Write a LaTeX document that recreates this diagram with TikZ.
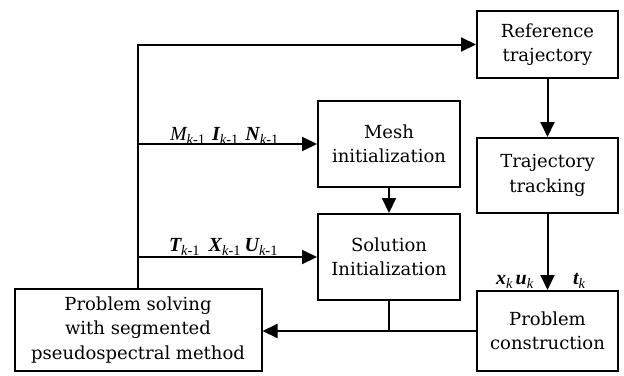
\documentclass[tikz,border=0pt]{standalone}
\usepackage{fontspec}
\setmainfont{DejaVu Serif}
\newfontfamily\lblfont{Liberation Serif}
\usetikzlibrary{arrows.meta}
% bold italic variable with a lowered subscript
\newcommand{\var}[3][\bfseries]{{\lblfont\fontsize{20}{20}\selectfont#1\itshape #2}\raisebox{-4pt}{\lblfont\fontsize{14.5}{14.5}\selectfont\textit{#3}}}
\newcommand{\sub}[1]{#1\upshape -1}

\begin{document}
\begin{tikzpicture}[x=1pt,y=-1pt, line width=2pt, >={Triangle[length=15pt,width=14pt]},
  block/.style={draw, line width=2pt, align=center, inner sep=2pt, font=\fontsize{18}{24.5}\selectfont}]
\useasboundingbox (0,0) rectangle (624,375);

\node[block, minimum width=141pt, minimum height=67pt] (ref) at (547.5,44.5) {Reference\\trajectory};
\node[block, minimum width=141pt, minimum height=75pt] (track) at (547.5,175.5) {Trajectory\\tracking};
\node[block, minimum width=141pt, minimum height=80pt] (cons) at (547.5,331) {Problem\\construction};

\node[block, minimum width=142pt, minimum height=86pt] (mesh) at (389,144) {Mesh\\initialization};
\node[block, minimum width=142pt, minimum height=86pt] (sol) at (389,257) {Solution\\Initialization};

\node[block, minimum width=247pt, minimum height=82pt] (solve) at (138,330) {Problem solving\\with segmented\\pseudospectral method};

\coordinate (top) at (solve.north |- ref.west);
\draw[->] (solve.north) -- (top) -- (ref.west);
\draw[->] (solve.north |- mesh.west) -- (mesh.west);
\draw[->] (solve.north |- sol.west) -- (sol.west);
\draw[->] (mesh.south) -- (sol.north);
\draw[->] (ref.south) -- (track.north);
\draw[->] (track.south) -- (cons.north);
\draw[->] (cons.west) -- (cons.west -| solve.east);
\draw (sol.south) -- (sol.south |- cons.west);

\node[anchor=base west, inner sep=0pt] (mlbl) at (169,140) {\var[\mdseries]{M}{\sub{k}}\hspace{7pt}\var{I}{\sub{k}}\hspace{7pt}\var{N}{\sub{k}}};
\node[anchor=base west, inner sep=0pt] (tlbl) at (168,251) {\var{T}{\sub{k}}\hspace{9pt}\var{X}{\sub{k}}\hspace{4pt}\var{U}{\sub{k}}};
\node[anchor=base west, inner sep=0pt] (xlbl) at (495,284) {\var{x}{k}\hspace{3pt}\var{u}{k}};
\node[anchor=base west, inner sep=0pt] (tklbl) at (572,284) {\var{t}{k}};
\end{tikzpicture}
\end{document}
